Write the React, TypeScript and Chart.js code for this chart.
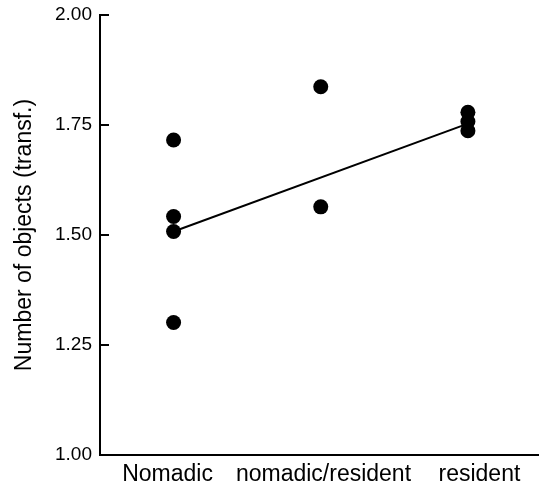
import React, { useEffect, useRef } from "react";
import { Chart, registerables } from "chart.js";

Chart.register(...registerables);

const categories = ["Nomadic", "nomadic/resident", "resident"];
const nomadicValues = [1.716, 1.542, 1.508, 1.301];
const mixedValues = [1.837, 1.564];
const residentValues = [1.779, 1.758, 1.737];
const trendValues: (number | null)[] = [1.508, null, 1.753];
const yTicks = [1.0, 1.25, 1.5, 1.75, 2.0];
const yTitle = "Number of objects (transf.)";

const FONT = "'Liberation Sans', Arial, Helvetica, sans-serif";

const inwardTicks = {
  id: "inwardTicks",
  afterDraw(chart: any) {
    const y = chart.scales.y;
    const ctx = chart.ctx;
    const left = chart.chartArea.left;
    ctx.save();
    ctx.strokeStyle = "#000";
    ctx.lineWidth = 2;
    y.ticks.forEach((t: any) => {
      const py = Math.round(y.getPixelForValue(t.value));
      ctx.beginPath();
      ctx.moveTo(left, py);
      ctx.lineTo(left + 9, py);
      ctx.stroke();
    });
    ctx.restore();
  },
};

const zeroPad = (s: any) => {
  s.paddingTop = 0;
  s.paddingBottom = 0;
  s.paddingLeft = 0;
  s.paddingRight = 0;
};

export default function App() {
  const ref = useRef<HTMLCanvasElement | null>(null);
  useEffect(() => {
    if (!ref.current) return;
    const points = [
      ...nomadicValues.map((v) => ({ x: categories[0], y: v })),
      ...mixedValues.map((v) => ({ x: categories[1], y: v })),
      ...residentValues.map((v) => ({ x: categories[2], y: v })),
    ];
    const chart = new Chart(ref.current, {
      type: "line",
      data: {
        labels: categories,
        datasets: [
          {
            data: trendValues as any,
            borderColor: "#000",
            borderWidth: 2,
            pointRadius: 0,
            spanGaps: true,
            fill: false,
          },
          {
            data: points as any,
            showLine: false,
            pointRadius: 7.5,
            pointBackgroundColor: "#000",
            pointBorderWidth: 0,
            pointHoverRadius: 7.5,
          },
        ],
      },
      options: {
        responsive: false,
        animation: false,
        events: [],
        layout: { padding: { top: 15, left: 0, right: 0, bottom: 0 } },
        plugins: { legend: { display: false }, tooltip: { enabled: false } },
        scales: {
          x: {
            type: "category",
            offset: true,
            grid: { display: false, drawTicks: false },
            border: { display: true, color: "#000", width: 2 },
            ticks: { display: false },
            afterFit: (s: any) => { s.height = 0; zeroPad(s); },
          },
          x2: {
            type: "linear",
            position: "bottom",
            min: -0.433,
            max: 2.398,
            afterBuildTicks: (s: any) => { s.ticks = categories.map((_, i) => ({ value: i })); },
            grid: { display: false, drawTicks: false },
            border: { display: false },
            ticks: {
              color: "#000",
              font: { family: FONT, size: 23 },
              padding: 6,
              maxRotation: 0,
              autoSkip: false,
              callback: (v: any) => categories[Math.round(Number(v))] ?? "",
            },
            afterFit: (s: any) => { s.height = 29; zeroPad(s); },
          },
          y: {
            min: 1,
            max: 2,
            afterBuildTicks: (s: any) => { s.ticks = yTicks.map((v) => ({ value: v })); },
            grid: { display: false, drawTicks: false },
            border: { display: true, color: "#000", width: 2 },
            ticks: {
              color: "#000",
              font: { family: FONT, size: 19 },
              padding: 8,
              callback: (v: any) => Number(v).toFixed(2),
            },
            title: {
              display: true,
              text: yTitle,
              color: "#000",
              font: { family: FONT, size: 23 },
              padding: { top: 11, bottom: 0 },
            },
            afterFit: (s: any) => { s.width = 100; zeroPad(s); },
          },
        },
      },
      plugins: [inwardTicks],
    });
    return () => chart.destroy();
  }, []);
  return (
    <div style={{ position: "fixed", left: 0, top: 0, width: 549, height: 484, background: "#fff" }}>
      <canvas ref={ref} width={549} height={484} style={{ display: "block" }} />
    </div>
  );
}
